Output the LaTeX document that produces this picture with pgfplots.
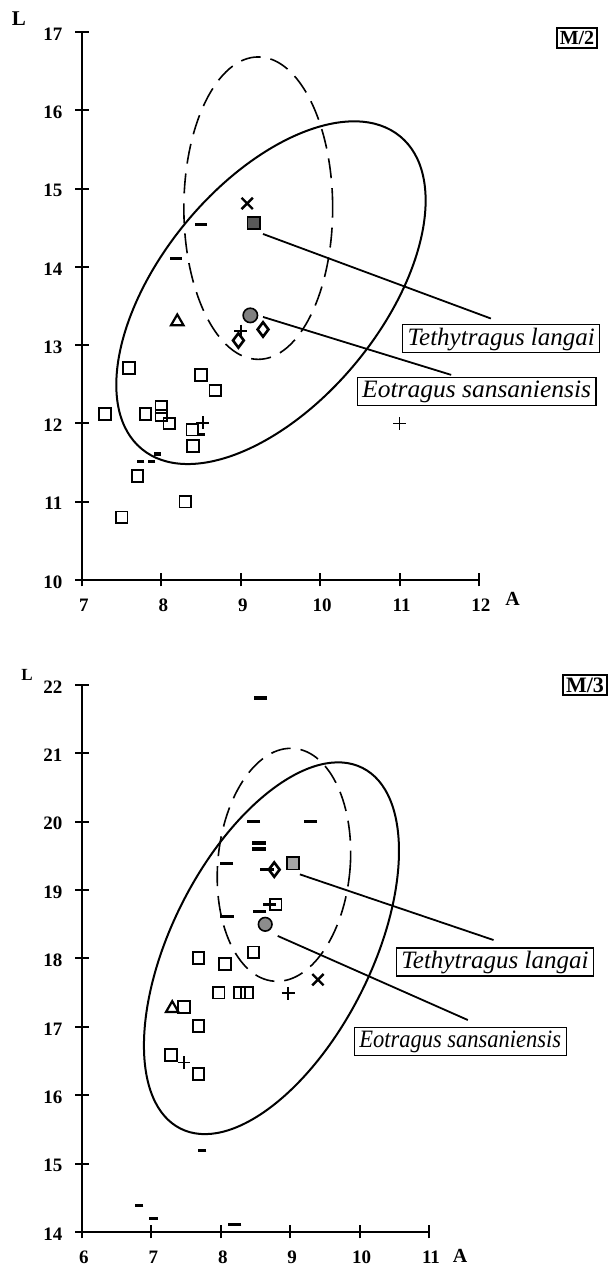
\documentclass[border=0pt]{standalone}
\usepackage{pgfplots}
\pgfplotsset{compat=1.18}
\usepackage{fontspec}
\setmainfont{Liberation Serif}
\tikzset{lbl/.style={draw, line width=0.6pt, inner xsep=2.5pt, inner ysep=1.2pt, fill=white,
    font=\fontsize{12.5}{14}\selectfont\itshape, text height=9pt, text depth=2.6pt}}
\begin{document}
\begin{tikzpicture}[x=1pt,y=1pt]
\path[use as bounding box] (0pt,0pt) rectangle (307.5pt,632.5pt);
\pgfplotsset{
  panel/.style={
    scale only axis,
    anchor=south west,
    axis x line*=bottom, axis y line*=left,
    axis line style={line width=1pt, -},
    every tick/.style={line width=1pt, black},
    tick align=center,
    major tick length=6.5pt,
    tick label style={font=\fontsize{9.5}{10}\selectfont\bfseries},
    xticklabel style={yshift=-2.5pt, xshift=1pt},
    yticklabel style={xshift=-3pt, yshift=-1pt},
    /pgf/number format/assume math mode=true,
    clip=false,
  },
  sq/.style={black, only marks, mark=square, mark size=2.9pt, mark options={line width=0.9pt}},
  dsh/.style={black, only marks, mark=-, mark size=3pt, mark options={line width=1.6pt}},
  pls/.style={black, only marks, mark=+, mark size=3.2pt, mark options={line width=0.9pt}},
  crs/.style={black, only marks, mark=x, mark size=4pt, mark options={line width=1.2pt}},
  tri/.style={black, only marks, mark=triangle, mark size=3.6pt, mark options={line width=1.1pt}},
  dia/.style={black, only marks, mark=diamond, mark size=3.6pt, mark options={line width=1.3pt}},
}
% ---------------- Top panel: M/2 ----------------
\begin{axis}[panel, at={(41pt,342.5pt)}, width=198.5pt, height=274pt,
  xmin=7, xmax=12, ymin=10, ymax=17, xtick={7,...,12}, ytick={10,...,17}]
\addplot[sq] coordinates {(7.29,12.12) (7.59,12.71) (7.5,10.8) (7.7,11.33) (7.8,12.12)
  (8.0,12.21) (8.0,12.1) (8.1,12.0) (8.3,11.0) (8.4,11.71) (8.39,11.92) (8.5,12.62) (8.68,12.42)};
\addplot[dsh] coordinates {(8.5,14.54) (8.18,14.11)};
\addplot[dsh, mark size=1.8pt] coordinates {(7.74,11.51) (7.88,11.51) (7.95,11.61) (8.5,11.86)};
\addplot[pls] coordinates {(8.52,12.01) (11.0,12.0) (9.0,13.18)};
\addplot[crs] coordinates {(9.08,14.81)};
\addplot[tri] coordinates {(8.2,13.3)};
\addplot[dia] coordinates {(8.97,13.06) (9.28,13.2)};
\addplot[black, only marks, mark=square*, mark size=3.1pt, mark options={line width=0.8pt, fill=black!65}] coordinates {(9.16,14.56)};
\addplot[black, only marks, mark=*, mark size=3.6pt, mark options={line width=0.8pt, fill=black!50}] coordinates {(9.12,13.38)};
\draw[line width=1pt] (axis cs:9.38,13.67) ellipse [x radius=101.4pt, y radius=55.1pt, rotate=50.4];
\draw[line width=0.8pt, dash pattern=on 10pt off 5pt] (axis cs:9.22,14.75) ellipse [x radius=37.2pt, y radius=75.6pt];
\draw[line width=0.9pt] (axis cs:9.28,14.42) -- (axis cs:12.15,13.34);
\draw[line width=0.9pt] (axis cs:9.28,13.36) -- (axis cs:11.65,12.62);
\node[lbl] at (axis cs:12.28,13.08) {Tethytragus langai};
\node[lbl] at (axis cs:11.97,12.41) {\scalebox{1.02}[1]{Eotragus sansaniensis}};
\end{axis}
% ---------------- Bottom panel: M/3 ----------------
\begin{axis}[panel, at={(41pt,16.5pt)}, width=173.5pt, height=273.5pt,
  xmin=6, xmax=11, ymin=14, ymax=22, xtick={6,...,11}, ytick={14,...,22}]
\addplot[sq] coordinates {(7.68,18.01) (8.06,17.92) (8.47,18.09) (7.97,17.5) (8.27,17.5)
  (8.38,17.5) (7.47,17.29) (7.68,17.01) (7.28,16.59) (7.68,16.31) (8.79,18.79)};
\addplot[dsh, mark size=3.4pt] coordinates {(8.57,21.81) (8.47,20.0) (9.29,20.0) (8.55,19.69) (8.55,19.6)
  (8.08,19.39) (8.67,19.3) (8.7,18.79) (8.56,18.69) (8.09,18.62) (8.2,14.11)};
\addplot[dsh, mark size=2.2pt] coordinates {(7.73,15.19) (6.82,14.39) (7.03,14.2)};
\addplot[pls] coordinates {(7.47,16.48) (8.97,17.49)};
\addplot[crs] coordinates {(9.4,17.69)};
\addplot[tri] coordinates {(7.3,17.27)};
\addplot[dia] coordinates {(8.77,19.3)};
\addplot[black, only marks, mark=square*, mark size=3.1pt, mark options={line width=0.8pt, fill=black!35}] coordinates {(9.04,19.39)};
\addplot[black, only marks, mark=*, mark size=3.4pt, mark options={line width=0.8pt, fill=black!45}] coordinates {(8.64,18.5)};
\draw[line width=1pt] (axis cs:8.73,18.15) ellipse [x radius=101pt, y radius=50pt, rotate=63.2];
\draw[line width=0.8pt, dash pattern=on 10pt off 5pt] (axis cs:8.91,19.37) ellipse [x radius=33.1pt, y radius=58.4pt, rotate=-5];
\draw[line width=0.9pt] (axis cs:9.14,19.23) -- (axis cs:11.93,18.27);
\draw[line width=0.9pt] (axis cs:8.82,18.33) -- (axis cs:11.56,17.10);
\node[lbl] at (axis cs:11.95,17.95) {Tethytragus langai};
\node[lbl] at (axis cs:11.45,16.79) {\scalebox{0.9}[1]{Eotragus sansaniensis}};
\end{axis}
% axis titles and panel tags
\node[font=\fontsize{10.5}{12}\selectfont\bfseries] at (9.5pt,623pt) {L};
\node[font=\fontsize{10}{12}\selectfont\bfseries] at (256.3pt,332.8pt) {A};
\node[font=\fontsize{8.5}{10}\selectfont\bfseries] at (13.5pt,295pt) {L};
\node[font=\fontsize{10}{12}\selectfont\bfseries] at (230pt,4.5pt) {A};
\node[draw, line width=0.9pt, inner sep=1.5pt, font=\fontsize{10}{12}\selectfont\bfseries] at (288.5pt,613.5pt) {M/2};
\node[draw, line width=0.9pt, inner sep=1.5pt, font=\fontsize{11}{12}\selectfont\bfseries] at (292.5pt,290pt) {M/3};
\end{tikzpicture}
\end{document}
